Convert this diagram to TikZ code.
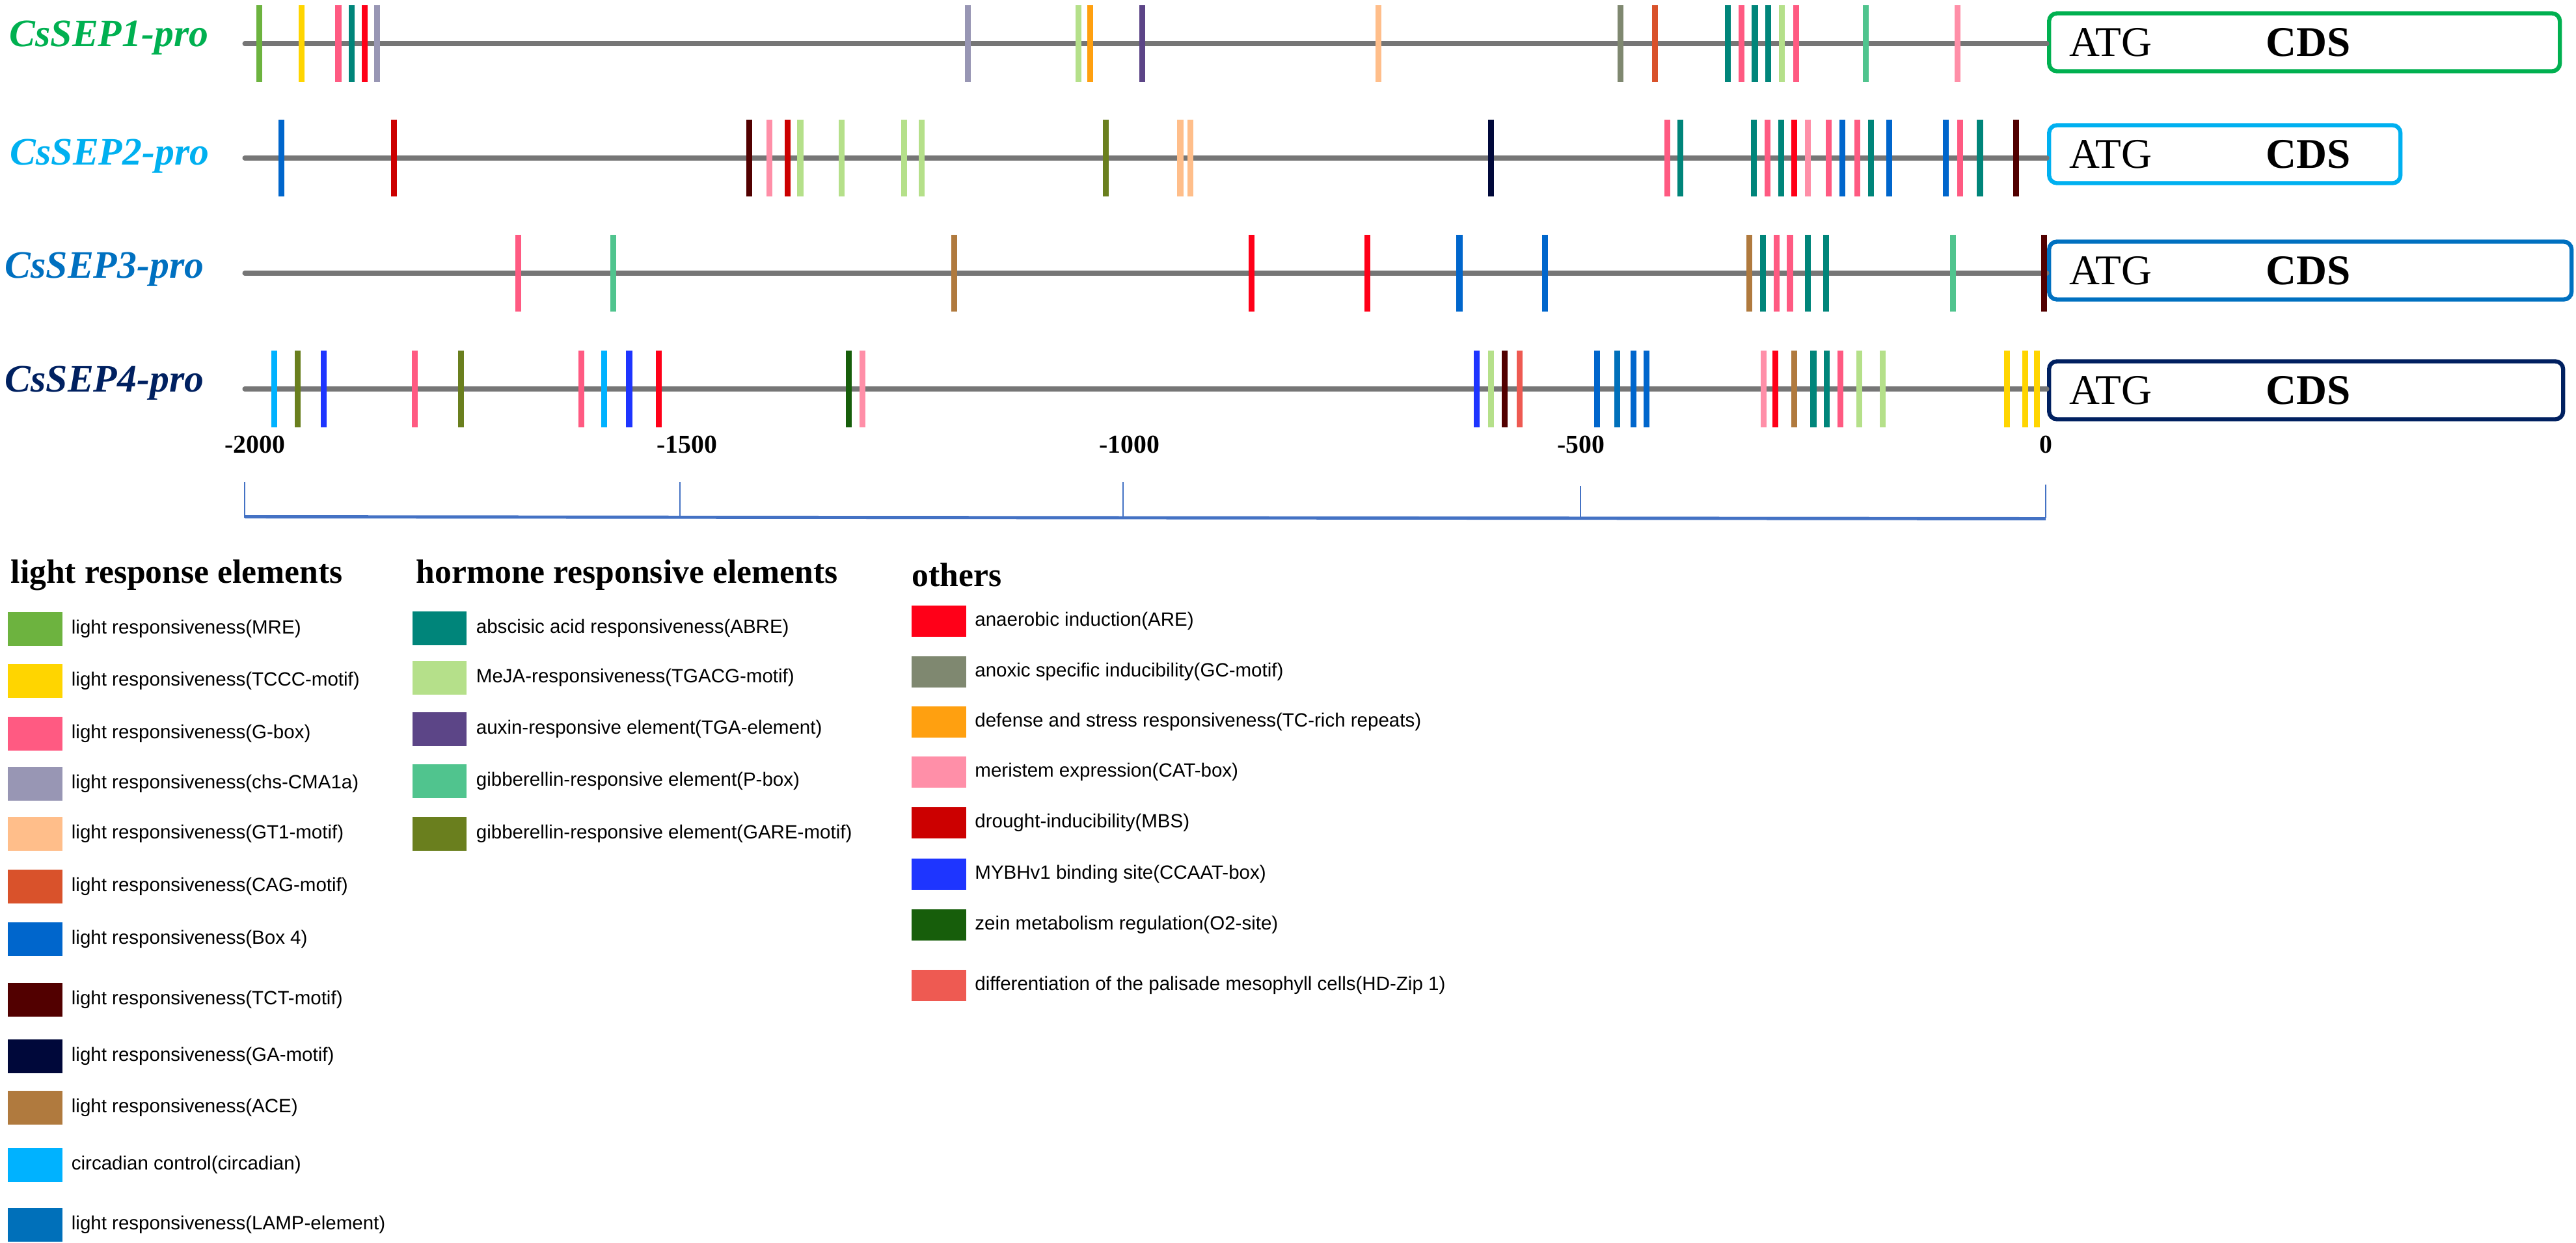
\documentclass[tikz,border=0pt]{standalone}
\usepackage{fontspec}
\setmainfont{Liberation Serif}
\newfontfamily\legendfont{Liberation Sans}
\usetikzlibrary{positioning}

\definecolor{promgray}{HTML}{767676}
\definecolor{scaleblue}{HTML}{4472C4}
\definecolor{sepone}{HTML}{00B050}
\definecolor{septwo}{HTML}{00B0F0}
\definecolor{septhree}{HTML}{0070C0}
\definecolor{sepfour}{HTML}{002060}
\definecolor{mre}{HTML}{6DB33F}
\definecolor{tccc}{HTML}{FFD500}
\definecolor{gbox}{HTML}{FF5A82}
\definecolor{chs}{HTML}{9896B4}
\definecolor{gtone}{HTML}{FFBE8A}
\definecolor{cag}{HTML}{D9522B}
\definecolor{boxf}{HTML}{0066CC}
\definecolor{tct}{HTML}{520000}
\definecolor{ga}{HTML}{00083A}
\definecolor{ace}{HTML}{B07A3E}
\definecolor{circ}{HTML}{00B2FF}
\definecolor{lamp}{HTML}{0070BA}
\definecolor{abre}{HTML}{00857A}
\definecolor{tgacg}{HTML}{B5E08A}
\definecolor{tga}{HTML}{5C4587}
\definecolor{pbox}{HTML}{50C48E}
\definecolor{gare}{HTML}{6A7F1E}
\definecolor{are}{HTML}{FF0018}
\definecolor{gc}{HTML}{7F8870}
\definecolor{tcrich}{HTML}{FFA010}
\definecolor{cat}{HTML}{FF8FA8}
\definecolor{mbs}{HTML}{CC0000}
\definecolor{ccaat}{HTML}{1E35FF}
\definecolor{otwo}{HTML}{175E0B}
\definecolor{hdzip}{HTML}{EE5A52}

\begin{document}
\begin{tikzpicture}[x=1cm,y=1cm,
    promoter/.style={draw=promgray, line width=2pt, line cap=round},
    site/.style={line width=2.6pt},
    cds/.style={draw, rounded corners=0.12cm, line width=1.8pt, minimum height=0.89cm, inner sep=0, anchor=west},
    boxtext/.style={inner sep=0, font=\fontsize{18.5}{20}\selectfont},
    gene/.style={anchor=base west, inner sep=0, font=\fontsize{17}{20}\selectfont\bfseries\itshape},
    ticklabel/.style={inner sep=0, font=\fontsize{11.3}{13}\selectfont\bfseries},
    scalebar/.style={draw=scaleblue, line width=1.4pt},
    scaletick/.style={draw=scaleblue, line width=0.6pt},
    legtitle/.style={anchor=west, inner sep=0, font=\fontsize{14.7}{17}\selectfont\bfseries},
    swatch/.style={rectangle, inner sep=0, minimum width=0.83cm, minimum height=0.52cm},
    legtext/.style={inner sep=0, font=\legendfont\fontsize{8.4}{10}\selectfont}]

  \useasboundingbox (0,0) rectangle (39.59,-19.11);

  \foreach \i/\y/\by/\w/\c/\gx/\gy in {1/0.67/0.65/7.85/sepone/0.14/0.72, 2/2.43/2.37/5.40/septwo/0.15/2.54,
                                       3/4.20/4.16/8.03/septhree/0.07/4.28, 4/5.98/6.00/7.90/sepfour/0.07/6.02} {
    \coordinate (s\i) at (3.76,-\y);
    \node[cds, draw=\c, minimum width=\w cm] (c\i) at (31.46,-\by) {};
    \draw[promoter] (s\i) -- (s\i -| c\i.west);
    \node[boxtext, right=0.34cm of c\i.west] (atg\i) {ATG};
    \node[boxtext, right=3.36cm of c\i.west] (cds\i) {\textbf{CDS}};
    \node[gene, text=\c] (g\i) at (\gx,-\gy) {CsSEP\i-pro};
  }

  \foreach \p/\c in {-1984/mre, -1937/tccc, -1896/gbox, -1881/abre, -1867/are, -1853/chs,
                     -1197/chs, -1074/tgacg, -1061/tcrich, -1003/tga, -741/gtone, -472/gc,
                     -434/cag, -353/abre, -338/gbox, -323/abre, -308/abre, -293/tgacg,
                     -277/gbox, -200/pbox, -98/cat}
    \draw[site, draw=\c] ({31.44+0.01384*\p},-0.08) -- ({31.44+0.01384*\p},-1.26);

  \foreach \p/\c in {-1959/boxf, -1834/mbs, -1440/tct, -1417/cat, -1397/mbs, -1383/tgacg,
                     -1337/tgacg, -1268/tgacg, -1248/tgacg, -1044/gare, -961/gtone, -950/gtone,
                     -616/ga, -420/gbox, -406/abre, -324/abre, -309/gbox, -294/abre, -279/are,
                     -264/cat, -241/gbox, -226/boxf, -209/gbox, -194/abre, -174/boxf,
                     -111/boxf, -95/gbox, -73/abre, -33/tct}
    \draw[site, draw=\c] ({31.44+0.01384*\p},-1.84) -- ({31.44+0.01384*\p},-3.02);

  \foreach \p/\c in {-1696/gbox, -1591/pbox, -1212/ace, -882/are, -753/are, -651/boxf,
                     -556/boxf, -329/ace, -314/abre, -299/gbox, -284/gbox, -264/abre,
                     -244/abre, -103/pbox, -2/tct}
    \draw[site, draw=\c] ({31.44+0.01384*\p},-3.61) -- ({31.44+0.01384*\p},-4.79);

  \foreach \p/\c in {-1967/circ, -1941/gare, -1912/ccaat, -1811/gbox, -1760/gare, -1626/gbox,
                     -1601/circ, -1573/ccaat, -1540/are, -1329/otwo, -1314/cat, -632/ccaat,
                     -616/tgacg, -601/tct, -584/hdzip, -498/boxf, -476/lamp, -458/boxf,
                     -443/boxf, -313/cat, -300/are, -279/ace, -258/abre, -243/abre,
                     -228/gbox, -207/tgacg, -181/tgacg, -43/tccc, -23/tccc, -10/tccc}
    \draw[site, draw=\c] ({31.44+0.01384*\p},-5.39) -- ({31.44+0.01384*\p},-6.57);

  \foreach \x/\t [count=\i] in {3.92/-2000, 10.56/-1500, 17.36/-1000, 24.30/-500, 31.44/0}
    \node[ticklabel] (n\i) at (\x,-6.83) {\t};

  \foreach \x/\top in {3.76/7.41, 10.45/7.41, 17.26/7.41, 24.29/7.47, 31.44/7.45}
    \draw[scaletick] (\x,-\top) -- (\x,-7.96);
  \draw[scalebar] (3.76,-7.945) -- (31.44,-7.975);

  \node[legtitle] (h1) at (0.16,-8.84) {light response elements};
  \node[legtitle] (h2) at (6.39,-8.84) {hormone responsive elements};
  \node[legtitle] (h3) at (14.01,-8.84) {others};

  \foreach \c/\y/\t [count=\i] in {mre/9.67/light responsiveness(MRE),
        tccc/10.47/light responsiveness(TCCC-motif), gbox/11.28/light responsiveness(G-box),
        chs/12.05/light responsiveness(chs-CMA1a), gtone/12.82/light responsiveness(GT1-motif),
        cag/13.63/light responsiveness(CAG-motif), boxf/14.44/light responsiveness(Box 4),
        tct/15.37/light responsiveness(TCT-motif), ga/16.24/light responsiveness(GA-motif),
        ace/17.03/light responsiveness(ACE), circ/17.91/circadian control(circadian),
        lamp/18.83/light responsiveness(LAMP-element)} {
    \node[swatch, fill=\c] (a\i) at (0.54,-\y) {};
    \node[legtext, right=0.13cm of a\i] (ta\i) {\t};
  }

  \foreach \c/\y/\t [count=\i] in {abre/9.66/abscisic acid responsiveness(ABRE),
        tgacg/10.42/MeJA-responsiveness(TGACG-motif), tga/11.21/auxin-responsive element(TGA-element),
        pbox/12.01/gibberellin-responsive element(P-box),
        gare/12.82/gibberellin-responsive element(GARE-motif)} {
    \node[swatch, fill=\c] (b\i) at (6.75,-\y) {};
    \node[legtext, right=0.14cm of b\i] (tb\i) {\t};
  }

  \foreach \c/\y/\t [count=\i] in {are/9.55/anaerobic induction(ARE),
        gc/10.33/anoxic specific inducibility(GC-motif),
        tcrich/11.10/defense and stress responsiveness(TC-rich repeats),
        cat/11.87/meristem expression(CAT-box), mbs/12.65/drought-inducibility(MBS),
        ccaat/13.44/MYBHv1 binding site(CCAAT-box), otwo/14.22/zein metabolism regulation(O2-site),
        hdzip/15.15/differentiation of the palisade mesophyll cells(HD-Zip 1)} {
    \node[swatch, fill=\c, minimum width=0.84cm, minimum height=0.48cm] (o\i) at (14.43,-\y) {};
    \node[legtext, right=0.12cm of o\i] (to\i) {\t};
  }

\end{tikzpicture}
\end{document}
